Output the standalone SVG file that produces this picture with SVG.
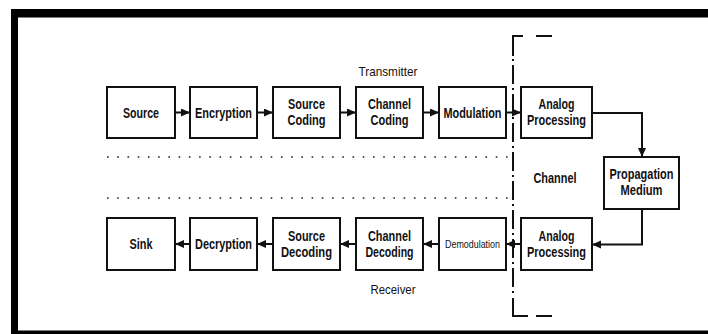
<svg xmlns="http://www.w3.org/2000/svg" width="708" height="334" viewBox="0 0 708 334">
<defs>
<style>
.box{fill:#fff;stroke:#111;stroke-width:2}
.t{font-family:"Liberation Sans Narrow","Liberation Sans",Arial,sans-serif;font-size:14px;font-weight:bold;fill:#111;text-anchor:middle}
.n{font-weight:normal;font-size:13.5px}
.s{font-size:10.5px;font-weight:normal}
.c{fill:none;stroke:#111;stroke-width:2}
.dot{fill:none;stroke:#222;stroke-width:1.6;stroke-dasharray:1.6 8.63}
.dash{fill:none;stroke:#111;stroke-width:2}
</style>
<marker id="ah" markerUnits="userSpaceOnUse" markerWidth="10" markerHeight="10" refX="9" refY="4" orient="auto">
<path d="M0,0 L9,4 L0,8 Z" fill="#111"/>
</marker>
</defs>
<rect width="708" height="334" fill="#fff"/>
<g id="frame">
<rect x="11" y="9" width="697" height="8.5" fill="#000"/>
<rect x="11" y="9" width="7" height="325" fill="#000"/>
<rect x="11" y="330.5" width="697" height="3.5" fill="#000"/>
</g>
<g id="labels">
<text class="t n" x="388" y="75.5" textLength="59" lengthAdjust="spacingAndGlyphs">Transmitter</text>
<text class="t" x="555" y="183" textLength="43" lengthAdjust="spacingAndGlyphs">Channel</text>
<text class="t n" x="393" y="293.5" textLength="45" lengthAdjust="spacingAndGlyphs">Receiver</text>
</g>
<g id="separators">
<line class="dot" x1="107" y1="157" x2="508" y2="157"/>
<line class="dot" x1="107" y1="198" x2="508" y2="198"/>
<path class="dash" d="M513,56 V36 H523"/>
<line class="dash" x1="536" y1="36" x2="552" y2="36"/>
<line class="dash" x1="513" y1="59" x2="513" y2="296" style="stroke-dasharray:2 4 19 4"/>
<path class="dash" d="M513,298 V316 H528"/>
<line class="dash" x1="536" y1="316" x2="552" y2="316"/>
</g>
<g id="n-source"><rect class="box" x="107" y="87" width="68" height="51"/><text class="t" x="141" y="117.5" textLength="36" lengthAdjust="spacingAndGlyphs">Source</text></g>
<g id="n-encryption"><rect class="box" x="190" y="87" width="67" height="51"/><text class="t" x="223.5" y="117.5" textLength="57" lengthAdjust="spacingAndGlyphs">Encryption</text></g>
<g id="n-source-coding"><rect class="box" x="273" y="87" width="67" height="51"/><text class="t" x="306.5" y="109" textLength="37" lengthAdjust="spacingAndGlyphs">Source</text><text class="t" x="306.5" y="125" textLength="38" lengthAdjust="spacingAndGlyphs">Coding</text></g>
<g id="n-channel-coding"><rect class="box" x="356" y="87" width="67" height="51"/><text class="t" x="389.5" y="109" textLength="43" lengthAdjust="spacingAndGlyphs">Channel</text><text class="t" x="389.5" y="125" textLength="38" lengthAdjust="spacingAndGlyphs">Coding</text></g>
<g id="n-modulation"><rect class="box" x="439" y="87" width="67" height="51"/><text class="t" x="472.5" y="117.5" textLength="58" lengthAdjust="spacingAndGlyphs">Modulation</text></g>
<g id="n-analog-tx"><rect class="box" x="521" y="87" width="71" height="51"/><text class="t" x="556.5" y="109" textLength="36" lengthAdjust="spacingAndGlyphs">Analog</text><text class="t" x="556.5" y="125" textLength="59" lengthAdjust="spacingAndGlyphs">Processing</text></g>
<g id="n-propagation"><rect class="box" x="604" y="157" width="75" height="52"/><text class="t" x="641.5" y="179" textLength="64" lengthAdjust="spacingAndGlyphs">Propagation</text><text class="t" x="641.5" y="195" textLength="42" lengthAdjust="spacingAndGlyphs">Medium</text></g>
<g id="n-sink"><rect class="box" x="107" y="218" width="68" height="52"/><text class="t" x="141" y="249" textLength="23" lengthAdjust="spacingAndGlyphs">Sink</text></g>
<g id="n-decryption"><rect class="box" x="190" y="218" width="67" height="52"/><text class="t" x="223.5" y="249" textLength="57" lengthAdjust="spacingAndGlyphs">Decryption</text></g>
<g id="n-source-decoding"><rect class="box" x="273" y="218" width="67" height="52"/><text class="t" x="306.5" y="240.5" textLength="37" lengthAdjust="spacingAndGlyphs">Source</text><text class="t" x="306.5" y="256.5" textLength="51" lengthAdjust="spacingAndGlyphs">Decoding</text></g>
<g id="n-channel-decoding"><rect class="box" x="356" y="218" width="67" height="52"/><text class="t" x="389.5" y="240.5" textLength="43" lengthAdjust="spacingAndGlyphs">Channel</text><text class="t" x="389.5" y="256.5" textLength="48" lengthAdjust="spacingAndGlyphs">Decoding</text></g>
<g id="n-demodulation"><rect class="box" x="439" y="218" width="67" height="52"/><text class="t s" x="472.5" y="247.5" textLength="55" lengthAdjust="spacingAndGlyphs">Demodulation</text></g>
<g id="n-analog-rx"><rect class="box" x="521" y="218" width="71" height="52"/><text class="t" x="556.5" y="240.5" textLength="36" lengthAdjust="spacingAndGlyphs">Analog</text><text class="t" x="556.5" y="256.5" textLength="59" lengthAdjust="spacingAndGlyphs">Processing</text></g>
<g id="connectors">
<line class="c" x1="175" y1="112.5" x2="190" y2="112.5" marker-end="url(#ah)"/>
<line class="c" x1="257" y1="112.5" x2="273" y2="112.5" marker-end="url(#ah)"/>
<line class="c" x1="340" y1="112.5" x2="356" y2="112.5" marker-end="url(#ah)"/>
<line class="c" x1="423" y1="112.5" x2="439" y2="112.5" marker-end="url(#ah)"/>
<line class="c" x1="506" y1="112.5" x2="521" y2="112.5" marker-end="url(#ah)"/>
<path class="c" d="M592,113 H642 V157" marker-end="url(#ah)"/>
<path class="c" d="M642,209 V244.5 H592" marker-end="url(#ah)"/>
<line class="c" x1="521" y1="244" x2="506" y2="244" marker-end="url(#ah)"/>
<line class="c" x1="439" y1="244" x2="423" y2="244" marker-end="url(#ah)"/>
<line class="c" x1="356" y1="244" x2="340" y2="244" marker-end="url(#ah)"/>
<line class="c" x1="273" y1="244" x2="257" y2="244" marker-end="url(#ah)"/>
<line class="c" x1="190" y1="244" x2="175" y2="244" marker-end="url(#ah)"/>
</g>
</svg>
